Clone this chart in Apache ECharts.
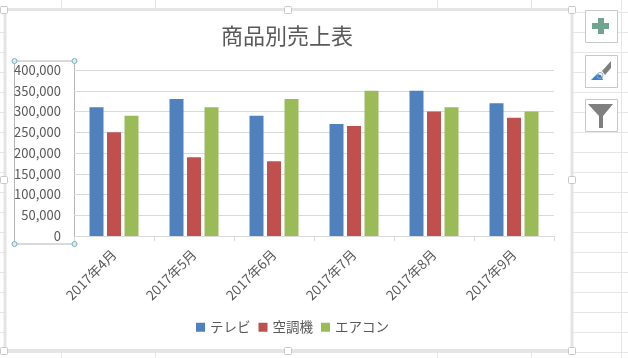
<!DOCTYPE html>
<html><head><meta charset="utf-8">
<style>html,body{margin:0;padding:0;background:#fff}#c{width:628px;height:358px}</style>
<script src="https://cdn.jsdelivr.net/npm/echarts@6/dist/echarts.min.js"></script>
</head><body><div id="c"></div>
<script>
const categories=['2017年4月','2017年5月','2017年6月','2017年7月','2017年8月','2017年9月'];
const tv=[310000,330000,290000,270000,350000,320000];
const aircon1=[250000,190000,180000,265000,300000,285000];
const aircon2=[290000,310000,330000,350000,310000,300000];
const seriesNames=['テレビ','空調機','エアコン'];
const colors=['#4f81bd','#c0504d','#9bbb59'];
const font='"Noto Sans CJK JP","Noto Sans",sans-serif';
const g=[];
const line=(x1,y1,x2,y2,c,w)=>g.push({type:'line',silent:true,z:0,shape:{x1,y1,x2,y2},style:{stroke:c,lineWidth:w||1}});
// sheet background grid
for(let y=12.5;y<358;y+=20) line(0,y,628,y,'#e6e6e6');
[61.5,155.5,437.5,531.5,621.5].forEach(x=>line(x,0,x,358,'#e6e6e6'));
// chart frame
g.push({type:'rect',silent:true,z:1,shape:{x:5,y:9.5,width:567,height:341},style:{fill:'#fff',stroke:'#e4e4e4',lineWidth:3}});
// frame handles
[[4,10],[288,10],[572,10],[4,180],[572,180],[4,351],[288,351],[572,351]].forEach(p=>
 g.push({type:'rect',silent:true,z:3,shape:{x:p[0]-3.5,y:p[1]-3.5,width:7,height:7,r:1},style:{fill:'#fff',stroke:'#c8c8c8',lineWidth:1}}));
// selected value-axis box
g.push({type:'rect',silent:true,z:3,shape:{x:14.5,y:61,width:60,height:183},style:{fill:'transparent',stroke:'#b4b4b4',lineWidth:1}});
[[14.5,61],[74.5,61],[14.5,244],[74.5,244]].forEach(p=>
 g.push({type:'circle',silent:true,z:4,shape:{cx:p[0],cy:p[1],r:2.5},style:{fill:'#dcecf2',stroke:'#7fb0c4',lineWidth:1}}));
// side buttons
[[585.5,10.5],[585.5,55.5],[585.5,99.5]].forEach(p=>
 g.push({type:'rect',silent:true,z:3,shape:{x:p[0],y:p[1],width:32,height:32},style:{fill:'#fff',stroke:'#c8c8c8',lineWidth:1}}));
// plus
g.push({type:'rect',silent:true,z:4,shape:{x:598,y:18,width:6,height:16},style:{fill:'#6fa58f'}});
g.push({type:'rect',silent:true,z:4,shape:{x:592,y:23,width:17,height:6},style:{fill:'#6fa58f'}});
// brush
g.push({type:'polygon',silent:true,z:4,shape:{points:[[602,71],[611,61],[611,68],[605,75]]},style:{fill:'#7f7f7f'}});
g.push({type:'polygon',silent:true,z:4,shape:{points:[[591,80],[597,74],[601,75],[603,80]]},style:{fill:'#3f7fc4'}});
g.push({type:'circle',silent:true,z:4,shape:{cx:600,cy:75.5,r:3},style:{fill:'transparent',stroke:'#8fa8c4',lineWidth:1}});
// funnel
g.push({type:'polygon',silent:true,z:4,shape:{points:[[588,104],[613,104],[603,116],[603,128],[599,128],[599,116]]},style:{fill:'#7f7f7f'}});
const chart=echarts.init(document.getElementById('c'),null,{renderer:'canvas'});
chart.setOption({
 animation:false,
 backgroundColor:'#fff',
 color:colors,
 graphic:{elements:g},
 title:{text:'商品別売上表',left:216,top:20,textStyle:{fontFamily:font,fontSize:22,fontWeight:'normal',color:'#595959'}},
 legend:{bottom:19,left:191,itemWidth:9,itemHeight:9,itemGap:8,icon:'rect',z:5,
   textStyle:{fontFamily:font,fontSize:13.5,color:'#595959'},data:seriesNames},
 grid:{left:74,right:74,top:70,height:166,containLabel:false,z:5},
 xAxis:{type:'category',data:categories,z:5,
   axisLine:{lineStyle:{color:'#d9d9d9'}},axisTick:{show:true,length:5,lineStyle:{color:'#d9d9d9'}},
   axisLabel:{rotate:45,margin:16,interval:0,fontFamily:font,fontSize:13.5,color:'#595959'}},
 yAxis:{type:'value',min:0,max:400000,interval:50000,z:5,
   axisLine:{show:false},axisTick:{show:false},
   splitLine:{lineStyle:{color:'#d9d9d9'}},
   axisLabel:{margin:13,fontFamily:font,fontSize:13,color:'#595959',formatter:v=>v.toLocaleString('en-US')}},
 series:[
  {name:seriesNames[0],type:'bar',data:tv,barWidth:14,barGap:'25%',z:6},
  {name:seriesNames[1],type:'bar',data:aircon1,barWidth:14,barGap:'25%',z:6},
  {name:seriesNames[2],type:'bar',data:aircon2,barWidth:14,barGap:'25%',z:6}
 ]
});
</script></body></html>
